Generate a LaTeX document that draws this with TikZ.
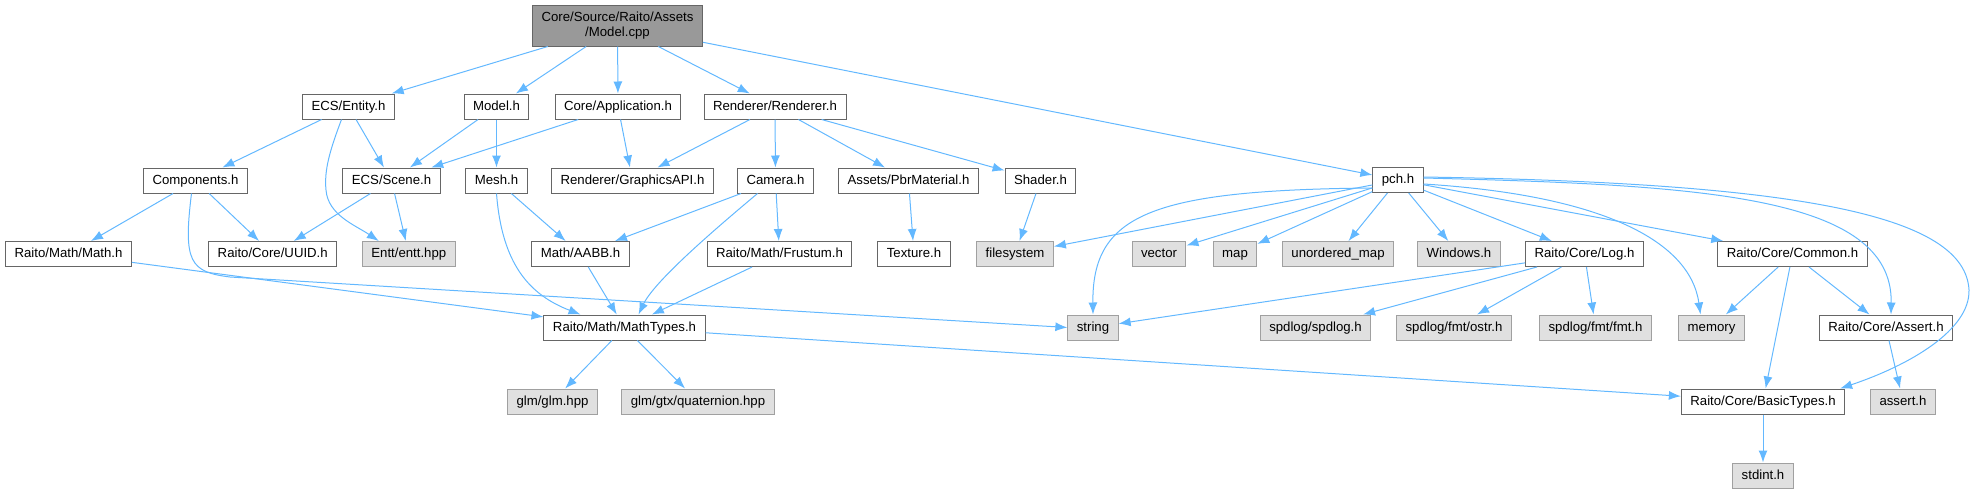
\documentclass[tikz,border=0pt]{standalone}
\usepackage{fontspec}
\setmainfont{Liberation Sans}
\usetikzlibrary{arrows.meta}
\definecolor{depblue}{HTML}{63B8FF}
\definecolor{hdrborder}{HTML}{666666}
\definecolor{sysborder}{HTML}{A0A0A0}
\definecolor{sysfill}{HTML}{E0E0E0}
\definecolor{rootfill}{HTML}{999999}
\tikzset{
  hdr/.style={draw=hdrborder, fill=white, line width=1pt, minimum height=25pt, inner xsep=9pt, inner ysep=0pt,
    text height=10pt, text depth=3pt, font=\fontsize{13.2}{15}\selectfont},
  sys/.style={hdr, draw=sysborder, fill=sysfill},
  rootfile/.style={hdr, fill=rootfill, align=center, minimum height=41pt, text height=, text depth=},
  dep/.style={->, draw=depblue, line width=1pt},
}

\begin{document}
\begin{tikzpicture}[x=1pt, y=-1pt, >={Latex[length=12pt,width=9pt]}]
\useasboundingbox (0,0) rectangle (1981,493);
% files
\node[rootfile] (cpp) at (617.5,25.5) {Core/Source/Raito/Assets\\/Model.cpp};
\node[hdr] (entity) at (348.5,106.5) {ECS/Entity.h};
\node[hdr] (modelh) at (496.5,106.5) {Model.h};
\node[hdr] (app) at (618,106.5) {Core/Application.h};
\node[hdr] (renderer) at (775,106.5) {Renderer/Renderer.h};
\node[hdr] (components) at (195.5,180.5) {Components.h};
\node[hdr] (scene) at (391.5,180.5) {ECS/Scene.h};
\node[hdr] (mesh) at (496.5,180.5) {Mesh.h};
\node[hdr] (gfxapi) at (632.5,180.5) {Renderer/GraphicsAPI.h};
\node[hdr] (camera) at (775.5,180.5) {Camera.h};
\node[hdr] (pbr) at (908.5,180.5) {Assets/PbrMaterial.h};
\node[hdr] (shader) at (1040.5,180.5) {Shader.h};
\node[hdr] (pch) at (1398,180) {pch.h};
\node[hdr] (math) at (68.5,254) {Raito/Math/Math.h};
\node[hdr] (uuid) at (272.75,254) {Raito/Core/UUID.h};
\node[sys] (entt) at (408.8,254) {Entt/entt.hpp};
\node[hdr] (aabb) at (580.5,254) {Math/AABB.h};
\node[hdr] (frustum) at (779.5,254) {Raito/Math/Frustum.h};
\node[hdr] (texture) at (914,254) {Texture.h};
\node[sys] (filesystem) at (1015,254) {filesystem};
\node[sys] (vector) at (1159,254) {vector};
\node[sys] (map) at (1235,254) {map};
\node[sys] (umap) at (1338,254) {unordered\_map};
\node[sys] (windows) at (1459,254) {Windows.h};
\node[hdr] (log) at (1584.5,254) {Raito/Core/Log.h};
\node[hdr] (common) at (1792.5,254) {Raito/Core/Common.h};
\node[hdr] (mathtypes) at (624.5,327.5) {Raito/Math/MathTypes.h};
\node[sys] (string) at (1093,327.5) {string};
\node[sys] (spdlog) at (1315.5,327.5) {spdlog/spdlog.h};
\node[sys] (ostr) at (1454,327.5) {spdlog/fmt/ostr.h};
\node[sys] (fmt) at (1595.5,327.5) {spdlog/fmt/fmt.h};
\node[sys] (memory) at (1711.5,327.5) {memory};
\node[hdr] (assert) at (1886,327.5) {Raito/Core/Assert.h};
\node[sys] (glm) at (552.5,401.5) {glm/glm.hpp};
\node[sys] (quat) at (698,401.5) {glm/gtx/quaternion.hpp};
\node[hdr] (basic) at (1763,401.5) {Raito/Core/BasicTypes.h};
\node[sys] (asserth) at (1903,401.5) {assert.h};
\node[sys] (stdint) at (1763,475.5) {stdint.h};

% includes
\draw[dep] (cpp) -- (entity);
\draw[dep] (cpp) -- (modelh);
\draw[dep] (cpp) -- (app);
\draw[dep] (cpp) -- (renderer);
\draw[dep] (cpp) -- (pch);
\draw[dep] (entity) -- (components);
\draw[dep] (entity) -- (scene);
\draw[dep] ([xshift=-7pt]entity.south) .. controls (330,150) and (324,170) .. (326,190) .. controls (328,215) and (355,225) .. ([xshift=-30pt]entt.north);
\draw[dep] (modelh) -- (scene);
\draw[dep] (modelh) -- (mesh);
\draw[dep] (app) -- (scene);
\draw[dep] (app) -- (gfxapi);
\draw[dep] (renderer) -- (gfxapi);
\draw[dep] (renderer) -- (camera);
\draw[dep] (renderer) -- (pbr);
\draw[dep] (renderer) -- (shader);
\draw[dep] (components) -- (math);
\draw[dep] (components) -- (uuid);
\draw[dep] ([xshift=-4pt]components.south) .. controls (183,262) and (190,272) .. (230,277) -- (string.west);
\draw[dep] (scene) -- (uuid);
\draw[dep] (scene) -- (entt);
\draw[dep] (mesh) -- (aabb);
\draw[dep] (mesh.south) .. controls (502,265) and (530,295) .. ([xshift=-44pt]mathtypes.north);
\draw[dep] (camera) -- (aabb);
\draw[dep] ([xshift=-18pt]camera.south) .. controls (720,225) and (655,280) .. ([xshift=14pt]mathtypes.north);
\draw[dep] (camera) -- (frustum);
\draw[dep] (pbr) -- (texture);
\draw[dep] (shader) -- (filesystem);
\draw[dep] (math) -- (mathtypes);
\draw[dep] (aabb) -- (mathtypes);
\draw[dep] (frustum) -- (mathtypes);
\draw[dep] (mathtypes) -- (glm);
\draw[dep] (mathtypes) -- (quat);
\draw[dep] (mathtypes) -- (basic);
\draw[dep] (pch) -- (filesystem);
\draw[dep] ([yshift=-8pt]pch.west) .. controls (1150,190) and (1092,215) .. (string.north);
\draw[dep] (pch) -- (vector);
\draw[dep] (pch) -- (map);
\draw[dep] (pch) -- (umap);
\draw[dep] (pch) -- (windows);
\draw[dep] (pch) -- (log);
\draw[dep] (pch) -- (common);
\draw[dep] ([yshift=-4pt]pch.east) .. controls (1600,195) and (1690,240) .. ([xshift=-11pt]memory.north);
\draw[dep] ([yshift=2pt]pch.east) .. controls (1700,185) and (1893,195) .. ([xshift=5pt]assert.north);
\draw[dep] ([yshift=3pt]pch.east) .. controls (1800,183) and (1965,215) .. (1969,290) .. controls (1970,330) and (1910,365) .. ([xshift=-5pt]basic.north east);
\draw[dep] (log) -- (string);
\draw[dep] (log) -- (spdlog);
\draw[dep] (log) -- (ostr);
\draw[dep] (log) -- (fmt);
\draw[dep] (common) -- (memory);
\draw[dep] (common) -- (basic);
\draw[dep] (common) -- (assert);
\draw[dep] (assert) -- (asserth);
\draw[dep] (basic) -- (stdint);
\end{tikzpicture}
\end{document}
